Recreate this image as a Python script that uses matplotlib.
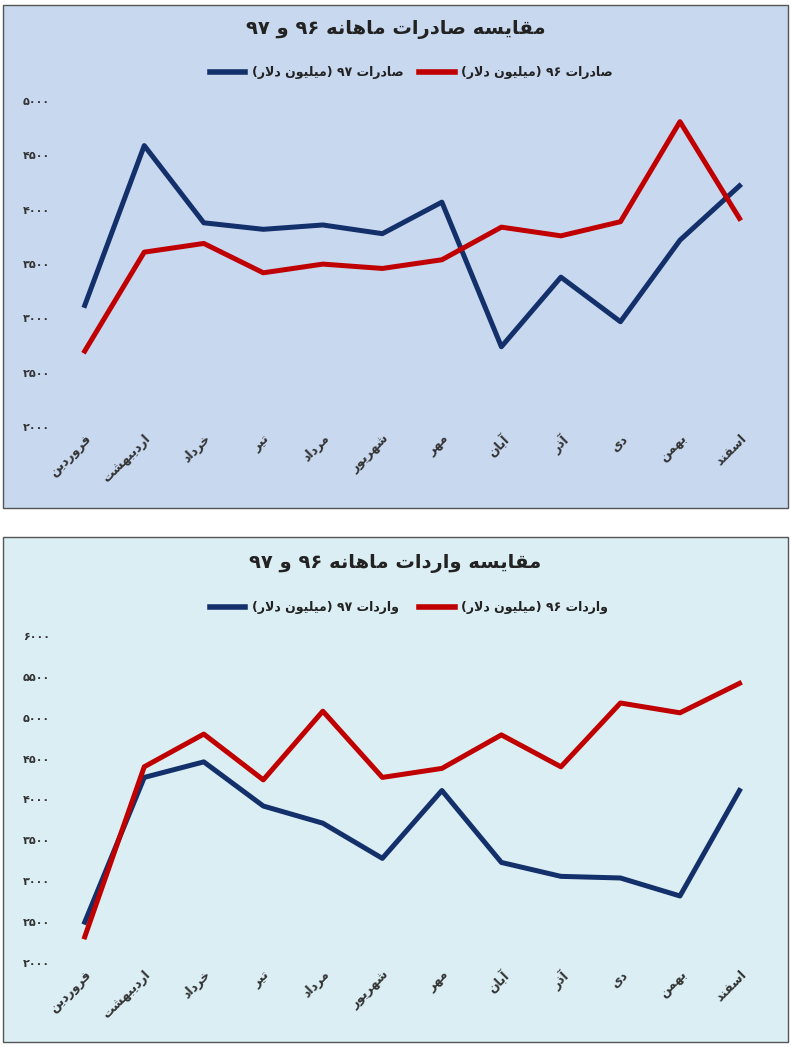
import re
import matplotlib
matplotlib.use("Agg")
import matplotlib.pyplot as plt
from matplotlib.patches import Rectangle

months = ["فروردین", "اردیبهشت", "خرداد", "تیر", "مرداد", "شهریور",
          "مهر", "آبان", "آذر", "دی", "بهمن", "اسفند"]

# exports (million dollars)
exp_97 = [3120, 4590, 3880, 3820, 3860, 3780, 4070, 2740, 3380, 2970, 3720, 4220]
exp_96 = [2700, 3610, 3690, 3420, 3500, 3460, 3540, 3840, 3760, 3890, 4810, 3920]
exp_ticks = [2000, 2500, 3000, 3500, 4000, 4500, 5000]

# imports (million dollars)
imp_97 = [2500, 4270, 4460, 3920, 3710, 3280, 4110, 3230, 3060, 3040, 2820, 4110]
imp_96 = [2320, 4400, 4800, 4240, 5080, 4270, 4380, 4790, 4400, 5180, 5060, 5420]
imp_ticks = [2000, 2500, 3000, 3500, 4000, 4500, 5000, 5500, 6000]

# simple arabic shaping: (isolated, final, initial, medial)
FORMS = {
    "ا": (0xFE8D, 0xFE8E, None, None), "آ": (0xFE81, 0xFE82, None, None),
    "ب": (0xFE8F, 0xFE90, 0xFE91, 0xFE92), "ت": (0xFE95, 0xFE96, 0xFE97, 0xFE98),
    "خ": (0xFEA5, 0xFEA6, 0xFEA7, 0xFEA8), "د": (0xFEA9, 0xFEAA, None, None),
    "ذ": (0xFEAB, 0xFEAC, None, None), "ر": (0xFEAD, 0xFEAE, None, None),
    "س": (0xFEB1, 0xFEB2, 0xFEB3, 0xFEB4), "ش": (0xFEB5, 0xFEB6, 0xFEB7, 0xFEB8),
    "ص": (0xFEB9, 0xFEBA, 0xFEBB, 0xFEBC), "ف": (0xFED1, 0xFED2, 0xFED3, 0xFED4),
    "ق": (0xFED5, 0xFED6, 0xFED7, 0xFED8), "ل": (0xFEDD, 0xFEDE, 0xFEDF, 0xFEE0),
    "م": (0xFEE1, 0xFEE2, 0xFEE3, 0xFEE4), "ن": (0xFEE5, 0xFEE6, 0xFEE7, 0xFEE8),
    "ه": (0xFEE9, 0xFEEA, 0xFEEB, 0xFEEC), "و": (0xFEED, 0xFEEE, None, None),
    "ی": (0xFEEF, 0xFEF0, 0xFEF3, 0xFEF4),
}


def shape(text):
    out = []
    chars = list(text)
    i = 0
    while i < len(chars):
        c = chars[i]
        if c not in FORMS:
            out.append(c)
            i += 1
            continue
        prev = chars[i - 1] if i > 0 else ""
        join_prev = prev in FORMS and FORMS[prev][2] is not None
        if c == "ل" and i + 1 < len(chars) and chars[i + 1] == "ا":
            out.append(chr(0xFEFC if join_prev else 0xFEFB))
            i += 2
            continue
        nxt = chars[i + 1] if i + 1 < len(chars) else ""
        join_next = nxt in FORMS and FORMS[c][2] is not None
        iso, fin, ini, med = FORMS[c]
        if join_prev and join_next:
            f = med
        elif join_prev:
            f = fin
        elif join_next:
            f = ini
        else:
            f = iso
        out.append(chr(f))
        i += 1
    vis = "".join(out)[::-1]
    vis = vis.translate(str.maketrans("()", ")("))
    return re.sub(r"[۰-۹0-9]+", lambda m: m.group(0)[::-1], vis)


def fa_num(n):
    return str(n).translate(str.maketrans("0123456789", "۰۱۲۳۴۵۶۷۸۹"))


plt.rcParams["font.family"] = ["DejaVu Sans"]
BLUE = "#14306b"
RED = "#c00000"

fig = plt.figure(figsize=(7.91, 10.47), dpi=100)
fig.patches.append(Rectangle((3 / 791, 1 - 508 / 1047), 785 / 791, 503 / 1047,
                             transform=fig.transFigure, facecolor="#c8d8ef",
                             edgecolor="#555555", lw=1, zorder=-5))
fig.patches.append(Rectangle((3 / 791, 1 - 1042 / 1047), 785 / 791, 505 / 1047,
                             transform=fig.transFigure, facecolor="#dbeef3",
                             edgecolor="#555555", lw=1, zorder=-5))


def panel(rect, v97, v96, ticks, title, name, title_y, leg_y):
    ax = fig.add_axes(rect)
    ax.set_facecolor("none")
    ax.set_zorder(2)
    x = range(len(months))
    ax.plot(x, v97, color=BLUE, lw=3.6)
    ax.plot(x, v96, color=RED, lw=3.6)
    ax.set_xlim(-0.5, len(months) - 0.5)
    ax.set_ylim(ticks[0], ticks[-1])
    ax.set_yticks(ticks)
    ax.set_yticklabels([fa_num(t) for t in ticks], fontsize=8, fontweight="bold",
                       color="#333333")
    ax.set_xticks(list(x))
    ax.set_xticklabels([shape(m) for m in months], rotation=45, ha="right",
                       rotation_mode="anchor", fontsize=9, fontweight="bold",
                       color="#333333")
    ax.tick_params(length=0)
    for s in ax.spines.values():
        s.set_visible(False)
    fig.text(0.5, title_y, shape(title), ha="center", va="center",
             fontsize=14, fontweight="bold", color="#222222")
    fig.lines.append(plt.Line2D([0.265, 0.31], [leg_y, leg_y], color=BLUE, lw=4,
                                transform=fig.transFigure))
    fig.text(0.318, leg_y, shape(name + " ۹۷ (میلیون دلار)"), ha="left",
             va="center", fontsize=9, fontweight="bold", color="#222222")
    fig.lines.append(plt.Line2D([0.53, 0.575], [leg_y, leg_y], color=RED, lw=4,
                                transform=fig.transFigure))
    fig.text(0.583, leg_y, shape(name + " ۹۶ (میلیون دلار)"), ha="left",
             va="center", fontsize=9, fontweight="bold", color="#222222")


panel([0.0695, 0.592, 0.903, 0.3115], exp_97, exp_96, exp_ticks,
      "مقایسه صادرات ماهانه ۹۶ و ۹۷", "صادرات", 0.972, 0.931)
panel([0.0695, 0.0802, 0.903, 0.3124], imp_97, imp_96, imp_ticks,
      "مقایسه واردات ماهانه ۹۶ و ۹۷", "واردات", 0.462, 0.42)

fig.savefig("out.png", dpi=100)
